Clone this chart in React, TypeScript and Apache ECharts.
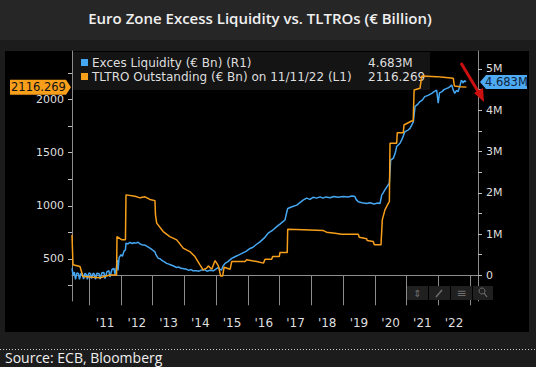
import React, { useEffect, useRef } from "react";
import * as echarts from "echarts";

const titleText = "Euro Zone Excess Liquidity vs. TLTROs (€ Billion)";
const sourceText = "Source: ECB, Bloomberg";
const liqName = "Exces Liquidity (€ Bn) (R1)";
const tltroName = "TLTRO Outstanding (€ Bn) on 11/11/22 (L1)";
const liqLast = 4.683;
const tltroLast = 2116.269;

// TLTRO outstanding (left axis, € Bn), dates as decimal years
const tltroDates = [
  2010.455, 2010.486, 2010.707, 2010.8, 2011.337, 2011.65, 2011.86, 2011.873, 2012.03, 2012.14,
  2012.157, 2012.44, 2012.6, 2012.76, 2012.91, 2013.07, 2013.087, 2013.125, 2013.33, 2013.54,
  2013.755, 2013.96, 2014.17, 2014.33, 2014.49, 2014.59, 2014.7, 2014.75, 2014.86, 2014.965,
  2015.07, 2015.14, 2015.205, 2015.25, 2015.44, 2015.49, 2015.91, 2015.96, 2016.28, 2016.49,
  2016.54, 2016.75, 2016.78, 2016.99, 2017.01, 2017.24, 2017.255, 2017.75, 2018.38, 2018.48,
  2018.745, 2018.96, 2019.48, 2019.51, 2019.745, 2019.76, 2019.95, 2019.985, 2020.196, 2020.237,
  2020.32, 2020.43, 2020.46, 2020.48, 2020.69, 2020.71, 2020.9, 2020.92, 2021.16, 2021.21,
  2021.24, 2021.425, 2021.48, 2021.95, 2022.16, 2022.475, 2022.51, 2022.69, 2022.89,
];
const tltroValues = [
  726, 445, 429, 335, 323, 350, 350, 711, 680, 680,
  1103, 1090, 1075, 1085, 1060, 1049, 915, 837, 758, 711,
  680, 602, 570, 523, 445, 398, 414, 435, 404, 485,
  435, 341, 341, 423, 404, 476, 476, 492, 476, 461,
  498, 498, 523, 523, 560, 560, 780, 775, 767, 752,
  742, 733, 733, 705, 690, 673, 665, 633, 633, 868,
  962, 1025, 1040, 1588, 1588, 1688, 1688, 1760, 1798, 1798,
  2089, 2105, 2221, 2215, 2209, 2199, 2127, 2120, 2116.269,
];

// Excess liquidity (right axis, labelled in M), dates as decimal years
const liqDates = [
  2010.455, 2010.49, 2010.53, 2010.565, 2010.61, 2010.66, 2010.69, 2010.74, 2010.785, 2010.82,
  2010.865, 2010.91, 2010.94, 2010.99, 2011.04, 2011.07, 2011.12, 2011.16, 2011.195, 2011.24,
  2011.31, 2011.34, 2011.4, 2011.46, 2011.495, 2011.56, 2011.62, 2011.65, 2011.715, 2011.78,
  2011.81, 2011.86, 2011.89, 2011.905, 2011.94, 2012.0, 2012.045, 2012.09, 2012.14, 2012.157,
  2012.22, 2012.28, 2012.35, 2012.41, 2012.47, 2012.535, 2012.6, 2012.66, 2012.76, 2012.82,
  2012.91, 2012.98, 2013.07, 2013.1, 2013.175, 2013.23, 2013.29, 2013.355, 2013.44, 2013.51,
  2013.575, 2013.64, 2013.755, 2013.83, 2013.89, 2013.985, 2014.07, 2014.14, 2014.21, 2014.27,
  2014.385, 2014.46, 2014.55, 2014.65, 2014.71, 2014.805, 2014.91, 2014.99, 2015.07, 2015.12,
  2015.17, 2015.215, 2015.28, 2015.37, 2015.49, 2015.59, 2015.7, 2015.81, 2015.94, 2016.07,
  2016.16, 2016.255, 2016.38, 2016.51, 2016.64, 2016.76, 2016.91, 2017.01, 2017.105, 2017.17,
  2017.2, 2017.255, 2017.39, 2017.54, 2017.64, 2017.74, 2017.85, 2017.96, 2018.05, 2018.17,
  2018.27, 2018.37, 2018.46, 2018.59, 2018.71, 2018.84, 2019.01, 2019.155, 2019.28, 2019.375,
  2019.41, 2019.48, 2019.6, 2019.745, 2019.85, 2019.975, 2020.1, 2020.165, 2020.22, 2020.26,
  2020.32, 2020.385, 2020.46, 2020.5, 2020.585, 2020.64, 2020.69, 2020.795, 2020.86, 2020.95,
  2021.05, 2021.11, 2021.215, 2021.27, 2021.36, 2021.425, 2021.505, 2021.575, 2021.68, 2021.795,
  2021.87, 2021.95, 2021.98, 2022.0, 2022.04, 2022.12, 2022.18, 2022.27, 2022.34, 2022.425,
  2022.47, 2022.52, 2022.58, 2022.625, 2022.68, 2022.73, 2022.79, 2022.83, 2022.875,
];
const liqValues = [
  0.17, 0.0, 0.08, -0.1, 0.06, 0.04, -0.1, 0.05, 0.03, -0.09,
  0.05, 0.02, -0.1, 0.06, 0.04, -0.08, 0.05, 0.03, -0.1, 0.05,
  0.04, -0.09, 0.06, 0.07, -0.08, 0.09, 0.11, -0.04, 0.14, 0.17,
  0.02, 0.21, 0.37, 0.12, 0.43, 0.5, 0.46, 0.58, 0.62, 0.78,
  0.76, 0.8, 0.77, 0.79, 0.78, 0.8, 0.76, 0.74, 0.73, 0.7,
  0.66, 0.62, 0.57, 0.5, 0.41, 0.4, 0.36, 0.33, 0.29, 0.27,
  0.25, 0.23, 0.19, 0.2, 0.17, 0.16, 0.145, 0.12, 0.14, 0.11,
  0.11, 0.1, 0.13, 0.13, 0.1, 0.12, 0.11, 0.15, 0.19, 0.14,
  0.13, 0.22, 0.29, 0.33, 0.41, 0.45, 0.49, 0.53, 0.58, 0.65,
  0.68, 0.74, 0.81, 0.9, 1.02, 1.08, 1.18, 1.24, 1.3, 1.34,
  1.45, 1.62, 1.66, 1.7, 1.76, 1.82, 1.87, 1.84, 1.89, 1.87,
  1.9, 1.87, 1.9, 1.88, 1.91, 1.89, 1.91, 1.9, 1.92, 1.91,
  1.84, 1.78, 1.76, 1.74, 1.76, 1.73, 1.75, 1.74, 1.95, 1.99,
  2.07, 2.15, 2.23, 2.79, 2.84, 2.95, 3.12, 3.2, 3.3, 3.48,
  3.52, 3.56, 3.72, 4.09, 4.15, 4.21, 4.25, 4.33, 4.36, 4.41,
  4.45, 4.49, 4.3, 4.17, 4.42, 4.45, 4.5, 4.53, 4.55, 4.61,
  4.5, 4.41, 4.48, 4.45, 4.58, 4.73, 4.66, 4.72, 4.683,
];

const yearTicks = [2011, 2012, 2013, 2014, 2015, 2016, 2017, 2018, 2019, 2020, 2021, 2022, 2023];
const yearLabelPos = [2011.5, 2012.5, 2013.5, 2014.5, 2015.5, 2016.5, 2017.5, 2018.5, 2019.5, 2020.5, 2021.5, 2022.5];
const leftTicks = [250, 500, 750, 1000, 1250, 1500, 1750, 2000, 2250];
const leftLabels = [500, 1000, 1500, 2000];
const rightTicks = [0, 0.5, 1, 1.5, 2, 2.5, 3, 3.5, 4, 4.5, 5];
const rightLabels = [0, 1, 2, 3, 4, 5];

const X_MIN = 2010.455;
const X_MAX = 2023.254;
const L_MIN = 105;
const L_MAX = 2456;
const R_MIN = -0.623;
const R_MAX = 5.436;

const BLUE = "#45a6f2";
const ORANGE = "#f79f1b";
const AXIS = "#8c8c8c";
const TXT = "#dedede";
const FONT = "DejaVu Sans";

export default function App() {
  const ref = useRef<HTMLDivElement>(null);
  useEffect(() => {
    if (!ref.current) return;
    const chart = echarts.init(ref.current, null, { renderer: "svg" });
    chart.setOption({
      animation: false,
      backgroundColor: "#1c1c1c",
      grid: { left: 72, right: 58, top: 51, bottom: 66 },
      xAxis: {
        type: "value",
        min: X_MIN,
        max: X_MAX,
        axisLine: { show: true, lineStyle: { color: AXIS, width: 1 } },
        axisTick: { show: true, customValues: yearTicks, length: 30, lineStyle: { color: AXIS } },
        axisLabel: {
          customValues: yearLabelPos,
          formatter: (v: number) => "'" + String(Math.floor(v) % 100).padStart(2, "0"),
          color: TXT,
          fontSize: 12,
          fontFamily: FONT,
          margin: 16,
        },
        splitLine: { show: false },
      },
      yAxis: [
        {
          type: "value",
          position: "left",
          min: L_MIN,
          max: L_MAX,
          axisLine: { show: true, lineStyle: { color: AXIS } },
          axisTick: { show: true, customValues: leftTicks, length: 4, lineStyle: { color: "#bdbdbd" } },
          axisLabel: {
            customValues: leftLabels,
            formatter: (v: number) => String(v),
            color: TXT,
            fontSize: 11,
            lineHeight: 12,
            fontFamily: FONT,
            margin: 8,
          },
          splitLine: { show: false },
        },
        {
          type: "value",
          position: "right",
          min: R_MIN,
          max: R_MAX,
          axisLine: { show: true, lineStyle: { color: AXIS } },
          axisTick: { show: true, customValues: rightTicks, length: 4, lineStyle: { color: "#bdbdbd" } },
          axisLabel: {
            customValues: rightLabels,
            formatter: (v: number) => (v === 0 ? "0" : v + "M"),
            color: TXT,
            fontSize: 11,
            lineHeight: 12,
            fontFamily: FONT,
            margin: 8,
          },
          splitLine: { show: false },
        },
      ],
      series: [
        {
          name: liqName,
          type: "line",
          yAxisIndex: 1,
          showSymbol: false,
          z: 3,
          data: liqDates.map((d, i) => [d, liqValues[i]]),
          lineStyle: { color: BLUE, width: 1.5 },
        },
        {
          name: tltroName,
          type: "line",
          yAxisIndex: 0,
          showSymbol: false,
          z: 4,
          data: tltroDates.map((d, i) => [d, tltroValues[i]]),
          lineStyle: { color: ORANGE, width: 1.5 },
        },
      ],
    });

    const yL = chart.convertToPixel({ yAxisIndex: 0 }, tltroLast) as number;
    const yR = chart.convertToPixel({ yAxisIndex: 1 }, liqLast) as number;
    const legendFont = `12px "${FONT}"`;

    chart.setOption({
      graphic: {
        elements: [
          { type: "rect", z: -100, shape: { x: 0, y: 0, width: 536, height: 40 }, style: { fill: "#262626" } },
          { type: "rect", z: -100, shape: { x: 5, y: 51, width: 524, height: 281 }, style: { fill: "#000000" } },
          {
            type: "text", x: 260, y: 18, z: 10,
            style: { text: titleText, fill: "#f0f0f0", font: `600 15px "Open Sans"`, align: "center", verticalAlign: "middle" },
          },
          { type: "rect", z: 1, shape: { x: 73, y: 52, width: 357, height: 38 }, style: { fill: "#141414" } },
          { type: "rect", z: 2, shape: { x: 81, y: 59, width: 7, height: 7 }, style: { fill: BLUE } },
          { type: "rect", z: 2, shape: { x: 81, y: 73, width: 7, height: 7 }, style: { fill: ORANGE } },
          { type: "text", z: 2, x: 92, y: 63, style: { text: liqName, fill: TXT, font: legendFont, verticalAlign: "middle" } },
          { type: "text", z: 2, x: 92, y: 77, style: { text: tltroName, fill: TXT, font: legendFont, verticalAlign: "middle" } },
          { type: "text", z: 2, x: 368, y: 63, style: { text: liqLast.toFixed(3) + "M", fill: TXT, font: legendFont, verticalAlign: "middle" } },
          { type: "text", z: 2, x: 368, y: 77, style: { text: tltroLast.toFixed(3), fill: TXT, font: legendFont, verticalAlign: "middle" } },
          {
            type: "polygon", z: 10,
            shape: { points: [[10, yL - 7.5], [66, yL - 7.5], [71, yL], [66, yL + 7.5], [10, yL + 7.5]] },
            style: { fill: ORANGE },
          },
          { type: "text", z: 11, x: 11, y: yL, style: { text: tltroLast.toFixed(3), fill: "#111", font: `11.5px "${FONT}"`, lineHeight: 12, verticalAlign: "middle" } },
          {
            type: "polygon", z: 10,
            shape: { points: [[480, yR], [486, yR - 7], [527, yR - 7], [527, yR + 7], [486, yR + 7]] },
            style: { fill: "#4eaaf2" },
          },
          { type: "text", z: 11, x: 485, y: yR, style: { text: liqLast.toFixed(3) + "M", fill: "#0c2440", font: `11.5px "${FONT}"`, lineHeight: 12, verticalAlign: "middle" } },
          { type: "line", z: 12, shape: { x1: 461, y1: 63, x2: 479, y2: 93 }, style: { stroke: "#cc1010", lineWidth: 3 } },
          { type: "polygon", z: 12, shape: { points: [[484, 102], [474, 93], [483, 88]] }, style: { fill: "#cc1010" } },
          { type: "rect", z: 5, shape: { x: 407, y: 286, width: 21, height: 14 }, style: { fill: "#202020" } },
          { type: "rect", z: 5, shape: { x: 429, y: 286, width: 21, height: 14 }, style: { fill: "#202020" } },
          { type: "rect", z: 5, shape: { x: 451, y: 286, width: 21, height: 14 }, style: { fill: "#202020" } },
          { type: "rect", z: 5, shape: { x: 473, y: 286, width: 20, height: 14 }, style: { fill: "#202020" } },
          { type: "text", z: 6, x: 417.5, y: 293, style: { text: "⇕", fill: "#6e6e6e", font: `10px "${FONT}"`, align: "center", verticalAlign: "middle" } },
          { type: "line", z: 6, shape: { x1: 436, y1: 297, x2: 442, y2: 290 }, style: { stroke: "#6e6e6e", lineWidth: 1.5 } },
          { type: "text", z: 6, x: 461.5, y: 293, style: { text: "≡", fill: "#6e6e6e", font: `12px "${FONT}"`, align: "center", verticalAlign: "middle" } },
          { type: "circle", z: 6, shape: { cx: 482, cy: 291, r: 3 }, style: { fill: "none", stroke: "#6e6e6e", lineWidth: 1 } },
          { type: "line", z: 6, shape: { x1: 484, y1: 293, x2: 487, y2: 297 }, style: { stroke: "#6e6e6e", lineWidth: 1.2 } },
          { type: "line", z: 5, shape: { x1: 0, y1: 349.5, x2: 536, y2: 349.5 }, style: { stroke: "#d0d0d0", lineWidth: 1, lineDash: [1, 2] } },
          {
            type: "text", x: 5, y: 357.5, z: 10,
            style: { text: sourceText, fill: "#f0f0f0", font: `14px "Open Sans"`, verticalAlign: "middle" },
          },
        ],
      },
    });
    return () => chart.dispose();
  }, []);
  return <div ref={ref} style={{ position: "fixed", left: 0, top: 0, width: 536, height: 367 }} />;
}
